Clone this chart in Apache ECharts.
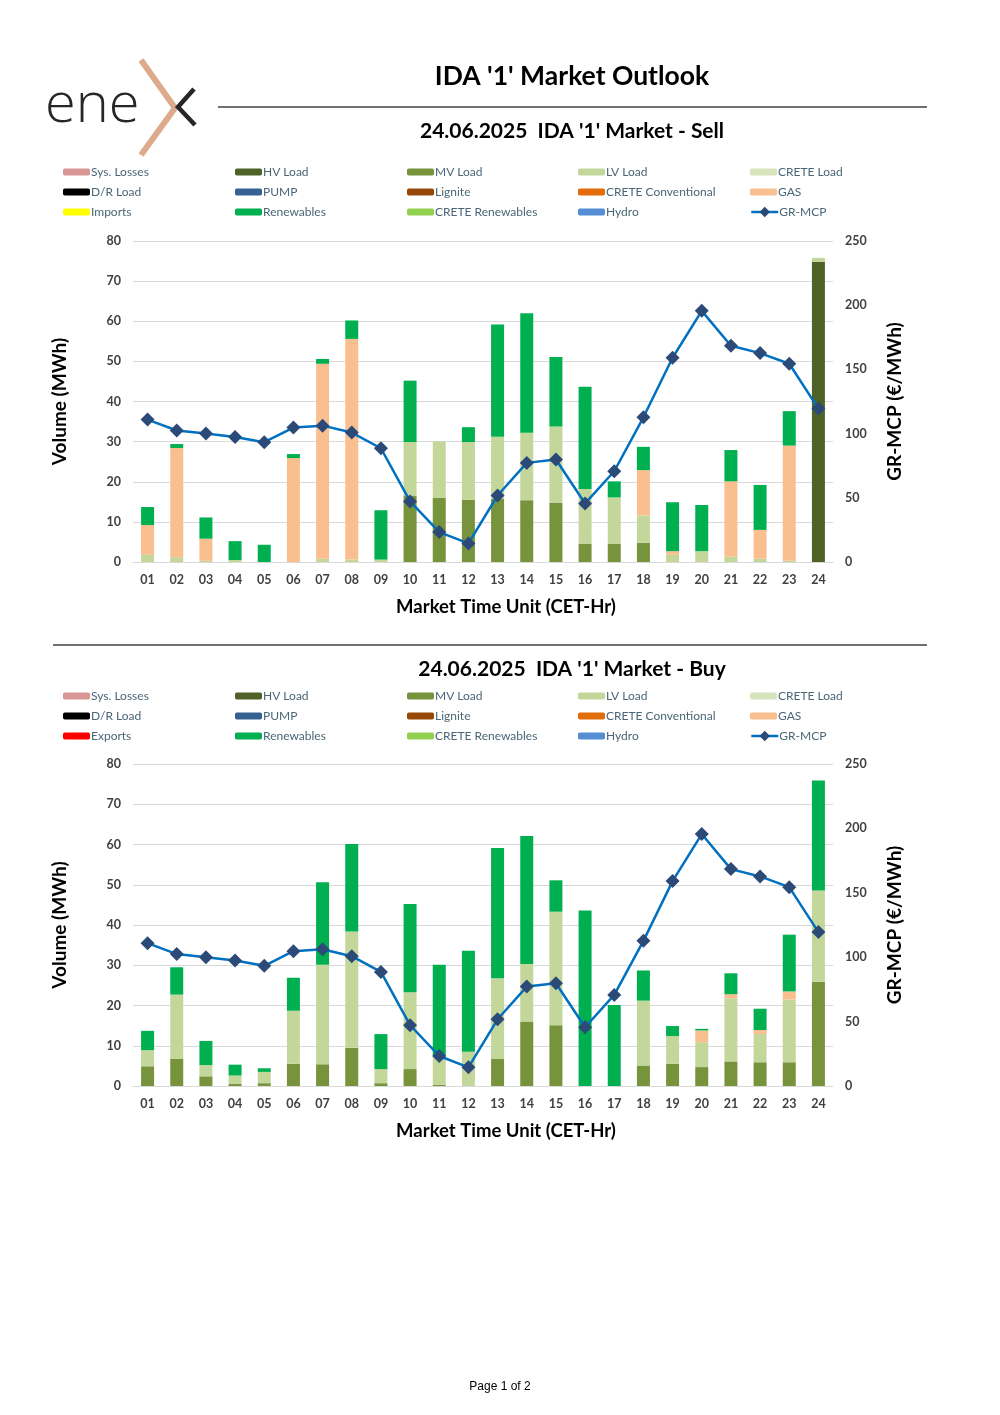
<!DOCTYPE html>
<html>
<head>
<meta charset="utf-8">
<script src="https://cdn.jsdelivr.net/npm/echarts@6/dist/echarts.min.js"></script>
<style>
html,body{margin:0;padding:0;background:#fff;}
#main{width:1000px;height:1415px;}
</style>
</head>
<body>
<div id="main"></div>
<script>
// ---------- DATA ----------
const hours = ['01','02','03','04','05','06','07','08','09','10','11','12','13','14','15','16','17','18','19','20','21','22','23','24'];
const volumeTicks = [0,10,20,30,40,50,60,70,80];
const priceTicks = [0,50,100,150,200,250];

const mcp = [110.9,102.4,100.0,97.4,93.3,104.7,106.2,100.8,88.6,47.2,23.3,14.5,51.8,77.2,79.8,45.6,70.7,112.7,159.1,195.6,168.4,162.7,154.4,119.5];

// Sell side (MWh)
const sellHV  = [0,0,0,0,0,0,0,0,0,0,0,0,0,0,0,0,0,0,0,0,0,0,0,74.8];
const sellMV  = [0,0,0,0,0,0,0,0,0,16.6,16.0,15.5,15.7,15.4,14.8,4.6,4.6,4.8,0,0,0,0,0,0];
const sellLV  = [1.8,1.2,0.3,0.5,0,0,0.8,0.6,0.6,13.3,14.1,14.4,15.5,16.8,19.0,13.6,11.5,6.8,1.8,2.7,1.3,0.8,0.3,1.0];
const sellGAS = [7.4,27.2,5.5,0,0,25.9,48.6,55.0,0,0,0,0,0,0,0,0,0,11.3,0.9,0,18.8,7.2,28.7,0];
const sellRen = [4.5,1.0,5.3,4.7,4.3,1.0,1.2,4.6,12.3,15.3,0,3.7,28.0,29.8,17.3,25.5,4.0,5.8,12.2,11.5,7.8,11.2,8.6,0];

// Buy side (MWh)
const buyMV  = [4.9,6.8,2.4,0.6,0.7,5.5,5.4,9.5,0.7,4.2,0.3,0,6.7,16.0,15.1,0,0,5.1,5.5,4.7,6.1,5.9,5.9,25.9];
const buyLV  = [4.0,15.9,2.8,2.0,2.8,13.2,24.7,28.9,3.5,19.1,7.0,8.5,20.1,14.3,28.2,0,0,16.1,6.9,6.2,15.7,7.0,15.6,22.7];
const buyGAS = [0,0,0,0,0,0,0,0,0,0,0,0,0,0,0,0,0,0,0,2.9,1.0,1.0,2.0,0];
const buyRen = [4.8,6.8,6.0,2.7,0.9,8.2,20.5,21.7,8.7,21.9,22.8,25.1,32.3,31.8,7.8,43.6,20.1,7.5,2.5,0.4,5.2,5.3,14.1,27.3];

const emptySeries = [];

// ---------- STYLE ----------
const colors = {
  'Sys. Losses':'#DA9694','HV Load':'#4F6228','MV Load':'#77933C','LV Load':'#C4D79B','CRETE Load':'#D8E4BC',
  'D/R Load':'#000000','PUMP':'#366092','Lignite':'#974706','CRETE Conventional':'#E26B0A','GAS':'#FABF8F',
  'Imports':'#FFFF00','Exports':'#FF0000','Renewables':'#00B050','CRETE Renewables':'#92D050','Hydro':'#558ED5'
};
const FONT = 'Lato, "DejaVu Sans", sans-serif';

function stackSeries(xi, yi, stack, third, data) {
  const names = ['Sys. Losses','HV Load','MV Load','LV Load','CRETE Load','D/R Load','PUMP','Lignite','CRETE Conventional','GAS',third,'Renewables','CRETE Renewables','Hydro'];
  return names.map(n => ({
    name: n, type: 'bar', stack: stack, xAxisIndex: xi, yAxisIndex: yi,
    barWidth: 13, itemStyle: {color: colors[n]}, data: data[n] || emptySeries,
    emphasis: {disabled: true}
  }));
}

const legendText = {fontFamily: FONT, fontSize: 12, color: '#4A6677', lineHeight: 13, padding: [0,0,0,-4]};
function legends(top, third) {
  const cols = [
    ['Sys. Losses','D/R Load',third],
    ['HV Load','PUMP','Renewables'],
    ['MV Load','Lignite','CRETE Renewables'],
    ['LV Load','CRETE Conventional','Hydro'],
    ['CRETE Load','GAS']
  ];
  const lefts = [63,235,407,578,750];
  const out = cols.map((c,i) => ({
    orient: 'vertical', left: lefts[i], top: top, data: c,
    itemWidth: 27, itemHeight: 7, itemGap: 7, padding: 0,
    selectedMode: false, textStyle: legendText
  }));
  out.push({
    orient: 'vertical', left: 750, top: top + 40, data: ['GR-MCP'],
    itemWidth: 27, itemHeight: 13, padding: 0, selectedMode: false,
    lineStyle: {width: 2.5},
    textStyle: legendText
  });
  return out;
}

function xAxis(gi) {
  return {
    type: 'category', gridIndex: gi, data: hours,
    name: 'Market Time Unit (CET-Hr)', nameLocation: 'middle', nameGap: 36,
    nameTextStyle: {fontFamily: FONT, fontSize: 18.5, fontWeight: 'bold', color: '#000', padding: [0,0,0,46]},
    axisLine: {lineStyle: {color: '#D9D9D9'}}, axisTick: {show: false},
    axisLabel: {fontFamily: FONT, fontSize: 12.5, fontWeight: 'bold', color: '#404040', margin: 11}
  };
}
function yLeft(gi) {
  return {
    type: 'value', gridIndex: gi, min: volumeTicks[0], max: volumeTicks[volumeTicks.length-1], interval: 10,
    name: 'Volume (MWh)', nameLocation: 'middle', nameGap: 64, nameRotate: 90,
    nameTextStyle: {fontFamily: FONT, fontSize: 19, fontWeight: 'bold', color: '#000'},
    axisLine: {show: false}, axisTick: {show: false},
    splitLine: {lineStyle: {color: '#D9D9D9', width: 1}},
    axisLabel: {fontFamily: FONT, fontSize: 12.5, fontWeight: 'bold', color: '#404040', margin: 12}
  };
}
function yRight(gi) {
  return {
    type: 'value', gridIndex: gi, position: 'right', min: priceTicks[0], max: priceTicks[priceTicks.length-1], interval: 50,
    name: 'GR-MCP (€/MWh)', nameLocation: 'middle', nameGap: 52, nameRotate: 90,
    nameTextStyle: {fontFamily: FONT, fontSize: 19, fontWeight: 'bold', color: '#000'},
    axisLine: {show: false}, axisTick: {show: false}, splitLine: {show: false},
    axisLabel: {fontFamily: FONT, fontSize: 12.5, fontWeight: 'bold', color: '#404040', margin: 12}
  };
}
function mcpLine(xi, yi) {
  return {
    name: 'GR-MCP', type: 'line', xAxisIndex: xi, yAxisIndex: yi, data: mcp,
    symbol: 'diamond', symbolSize: 14, z: 5,
    lineStyle: {color: '#0070C0', width: 2.5},
    itemStyle: {color: '#2B4A78'}, emphasis: {disabled: true}
  };
}

const sellData = {'HV Load': sellHV, 'MV Load': sellMV, 'LV Load': sellLV, 'GAS': sellGAS, 'Renewables': sellRen};
const buyData  = {'MV Load': buyMV, 'LV Load': buyLV, 'GAS': buyGAS, 'Renewables': buyRen};

const option = {
  animation: false,
  backgroundColor: '#fff',
  grid: [
    {left: 133, width: 700, top: 241, height: 321},
    {left: 133, width: 700, top: 764, height: 322}
  ],
  legend: legends(165.5, 'Imports').concat(legends(689.5, 'Exports')),
  xAxis: [xAxis(0), xAxis(1)],
  yAxis: [yLeft(0), yRight(0), yLeft(1), yRight(1)],
  series: stackSeries(0, 0, 'sell', 'Imports', sellData)
    .concat([mcpLine(0, 1)])
    .concat(stackSeries(1, 2, 'buy', 'Exports', buyData))
    .concat([mcpLine(1, 3)]),
  graphic: [
    // logo
    {type: 'text', left: 45, top: 78, style: {text: 'ene', fontFamily: '"Open Sans", Lato, sans-serif', fontSize: 56, fontWeight: 300, fill: '#262626'}},
    {type: 'polyline', shape: {points: [[141,60],[175,108],[141,155]]}, style: {stroke: '#DDAA8C', lineWidth: 6, fill: null}},
    {type: 'polyline', shape: {points: [[194,89],[178,107],[195,125]]}, style: {stroke: '#262626', lineWidth: 4.5, fill: null}},
    // titles
    {type: 'text', x: 572, y: 76, style: {text: "IDA '1' Market Outlook", fontFamily: FONT, fontSize: 26.5, fontWeight: 'bold', fill: '#000', align: 'center', verticalAlign: 'middle'}},
    {type: 'line', shape: {x1: 218, y1: 107, x2: 927, y2: 107}, style: {stroke: '#404040', lineWidth: 1.5}},
    {type: 'text', x: 572, y: 131, style: {text: "24.06.2025  IDA '1' Market - Sell", fontFamily: FONT, fontSize: 21, fontWeight: 'bold', fill: '#000', align: 'center', verticalAlign: 'middle'}},
    {type: 'line', shape: {x1: 53, y1: 645, x2: 927, y2: 645}, style: {stroke: '#404040', lineWidth: 1.5}},
    {type: 'text', x: 572, y: 669, style: {text: "24.06.2025  IDA '1' Market - Buy", fontFamily: FONT, fontSize: 21, fontWeight: 'bold', fill: '#000', align: 'center', verticalAlign: 'middle'}},
    {type: 'text', x: 500, y: 1387, style: {text: 'Page 1 of 2', fontFamily: '"Liberation Sans", Arial, sans-serif', fontSize: 12, fill: '#000', align: 'center', verticalAlign: 'middle'}}
  ]
};

const chart = echarts.init(document.getElementById('main'), null, {renderer: 'canvas'});
chart.setOption(option);
</script>
</body>
</html>
